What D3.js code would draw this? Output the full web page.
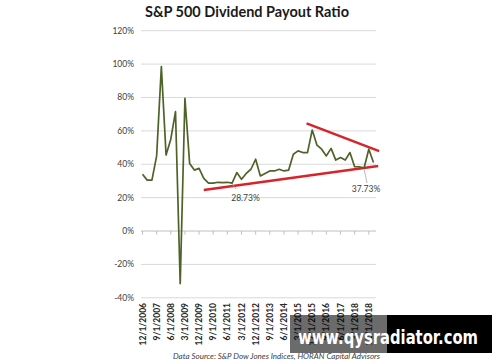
<!DOCTYPE html>
<html>
<head>
<meta charset="utf-8">
<script src="https://cdn.jsdelivr.net/npm/d3@7"></script>
<style>
  html, body { margin: 0; padding: 0; background: #fff; }
  svg { display: block; }
</style>
</head>
<body>
<svg id="chart" width="500" height="362"></svg>
<script>
// quarterly dates, 12/1/2006 .. 3/1/2019
const quarters = [];
for (let i = 0; i < 50; i++) {
  const m = ((11 + i * 3) % 12) + 1;
  const y = 2006 + Math.floor((11 + i * 3) / 12);
  quarters.push(`${m}/1/${y}`);
}

// payout ratio (%)
const payout = [
  34, 30.5, 30.5, 45, 98.5, 45.5, 55, 71.5, -31.5, 79.5,
  40.5, 36.5, 37.5, 31.5, 28.7, 28.7, 29.2, 29, 29.2, 28.73,
  35, 31, 34.5, 37, 43, 33, 34.5, 36, 36, 37,
  36, 36.5, 46, 48, 47, 47, 60.5, 51.5, 49, 45,
  49.5, 42.5, 44, 42.5, 47, 38.5, 38.5, 37.73, 49, 41
];

const yTicks = [-40, -20, 0, 20, 40, 60, 80, 100, 120];

// trend lines drawn on the chart: [index, value]
const lowerTrend = [[13, 24.6], [50, 38.9]];
const upperTrend = [[34.8, 64.5], [50.2, 47.9]];

// callouts: point index, label, label position offset
const callouts = [
  { idx: 19, text: '28.73%' },
  { idx: 47, text: '37.73%' }
];

const svg = d3.select('#chart');
const x = d3.scaleLinear().domain([0, 49]).range([142.5, 373.5]);
const y = d3.scaleLinear().domain([-40, 120]).range([297.8, 30.7]);
const gridL = 141, gridR = 376;

// title
svg.append('text')
  .attr('x', 247).attr('y', 17)
  .attr('text-anchor', 'middle')
  .attr('font-family', 'Lato, "Open Sans", sans-serif')
  .attr('font-weight', 'bold')
  .attr('font-size', 14.5)
  .attr('fill', '#1a1a1a')
  .text('S&P 500 Dividend Payout Ratio');

// gridlines
svg.append('g').selectAll('line').data(yTicks.filter(d => d !== 0)).enter()
  .append('line')
  .attr('x1', gridL).attr('x2', gridR)
  .attr('y1', d => y(d)).attr('y2', d => y(d))
  .attr('stroke', '#d9d9d9').attr('stroke-width', 1);

// y labels
svg.append('g').selectAll('text').data(yTicks).enter()
  .append('text')
  .attr('x', 134).attr('y', d => y(d) + 3)
  .attr('text-anchor', 'end')
  .attr('font-family', 'Lato, sans-serif')
  .attr('font-size', 8.5)
  .attr('fill', '#404040')
  .text(d => d + '%');

// 0% axis with tick marks
svg.append('line')
  .attr('x1', gridL).attr('x2', gridR)
  .attr('y1', y(0)).attr('y2', y(0))
  .attr('stroke', '#bfbfbf').attr('stroke-width', 1);

const labelIdx = d3.range(0, 50, 3);
svg.append('g').selectAll('line').data(labelIdx).enter()
  .append('line')
  .attr('x1', d => x(d)).attr('x2', d => x(d))
  .attr('y1', y(0)).attr('y2', y(0) + 3.5)
  .attr('stroke', '#bfbfbf').attr('stroke-width', 1);

// x labels (rotated)
svg.append('g').selectAll('text').data(labelIdx).enter()
  .append('text')
  .attr('transform', d => `translate(${x(d) + 3},303) rotate(-90)`)
  .attr('text-anchor', 'end')
  .attr('font-family', 'Lato, sans-serif')
  .attr('font-weight', 'bold')
  .attr('font-size', 8.5)
  .attr('fill', '#262626')
  .text(d => quarters[d]);

// trend lines
const tl = d3.line().x(d => x(d[0])).y(d => y(d[1]));
[lowerTrend, upperTrend].forEach(t => {
  svg.append('path').attr('d', tl(t))
    .attr('fill', 'none').attr('stroke', '#d8232a').attr('stroke-width', 2.5);
});

// series line
const line = d3.line().x((d, i) => x(i)).y(d => y(d));
svg.append('path').datum(payout)
  .attr('d', line)
  .attr('fill', 'none')
  .attr('stroke', '#4f6228')
  .attr('stroke-width', 1.7)
  .attr('stroke-linejoin', 'round');

// callouts
const c0 = callouts[0], c1 = callouts[1];
svg.append('line')
  .attr('x1', x(c0.idx)).attr('y1', y(payout[c0.idx]) + 1)
  .attr('x2', x(c0.idx) + 4).attr('y2', y(payout[c0.idx]) + 6)
  .attr('stroke', '#a6a6a6').attr('stroke-width', 0.8);
svg.append('text')
  .attr('x', 245.5).attr('y', 201)
  .attr('text-anchor', 'middle')
  .attr('font-family', 'Lato, sans-serif')
  .attr('font-size', 8.5).attr('fill', '#404040')
  .text(c0.text);
svg.append('line')
  .attr('x1', x(c1.idx)).attr('y1', y(payout[c1.idx]) + 1)
  .attr('x2', x(c1.idx) + 3).attr('y2', y(payout[c1.idx]) + 15)
  .attr('stroke', '#a6a6a6').attr('stroke-width', 0.8);
svg.append('text')
  .attr('x', 366).attr('y', 192)
  .attr('text-anchor', 'middle')
  .attr('font-family', 'Lato, sans-serif')
  .attr('font-size', 8.5).attr('fill', '#404040')
  .text(c1.text);

// source
svg.append('text')
  .attr('x', 173).attr('y', 359)
  .attr('font-family', 'Lato, sans-serif')
  .attr('font-style', 'italic')
  .attr('font-size', 7.2)
  .attr('fill', '#404040')
  .attr('textLength', 207).attr('lengthAdjust', 'spacingAndGlyphs')
  .text('Data Source: S&P Dow Jones Indices, HORAN Capital Advisors');

// watermark
svg.append('rect').attr('x', 290).attr('y', 315).attr('width', 97).attr('height', 38)
  .attr('fill', '#000').attr('fill-opacity', 0.58);
svg.append('rect').attr('x', 387).attr('y', 315).attr('width', 105).attr('height', 38)
  .attr('fill', '#000');
svg.append('text')
  .attr('x', 298).attr('y', 344)
  .attr('font-family', '"DejaVu Sans", sans-serif')
  .attr('font-weight', 'bold')
  .attr('font-size', 19)
  .attr('fill', '#fff')
  .attr('textLength', 180).attr('lengthAdjust', 'spacingAndGlyphs')
  .text('www.qysradiator.com');
</script>
</body>
</html>
